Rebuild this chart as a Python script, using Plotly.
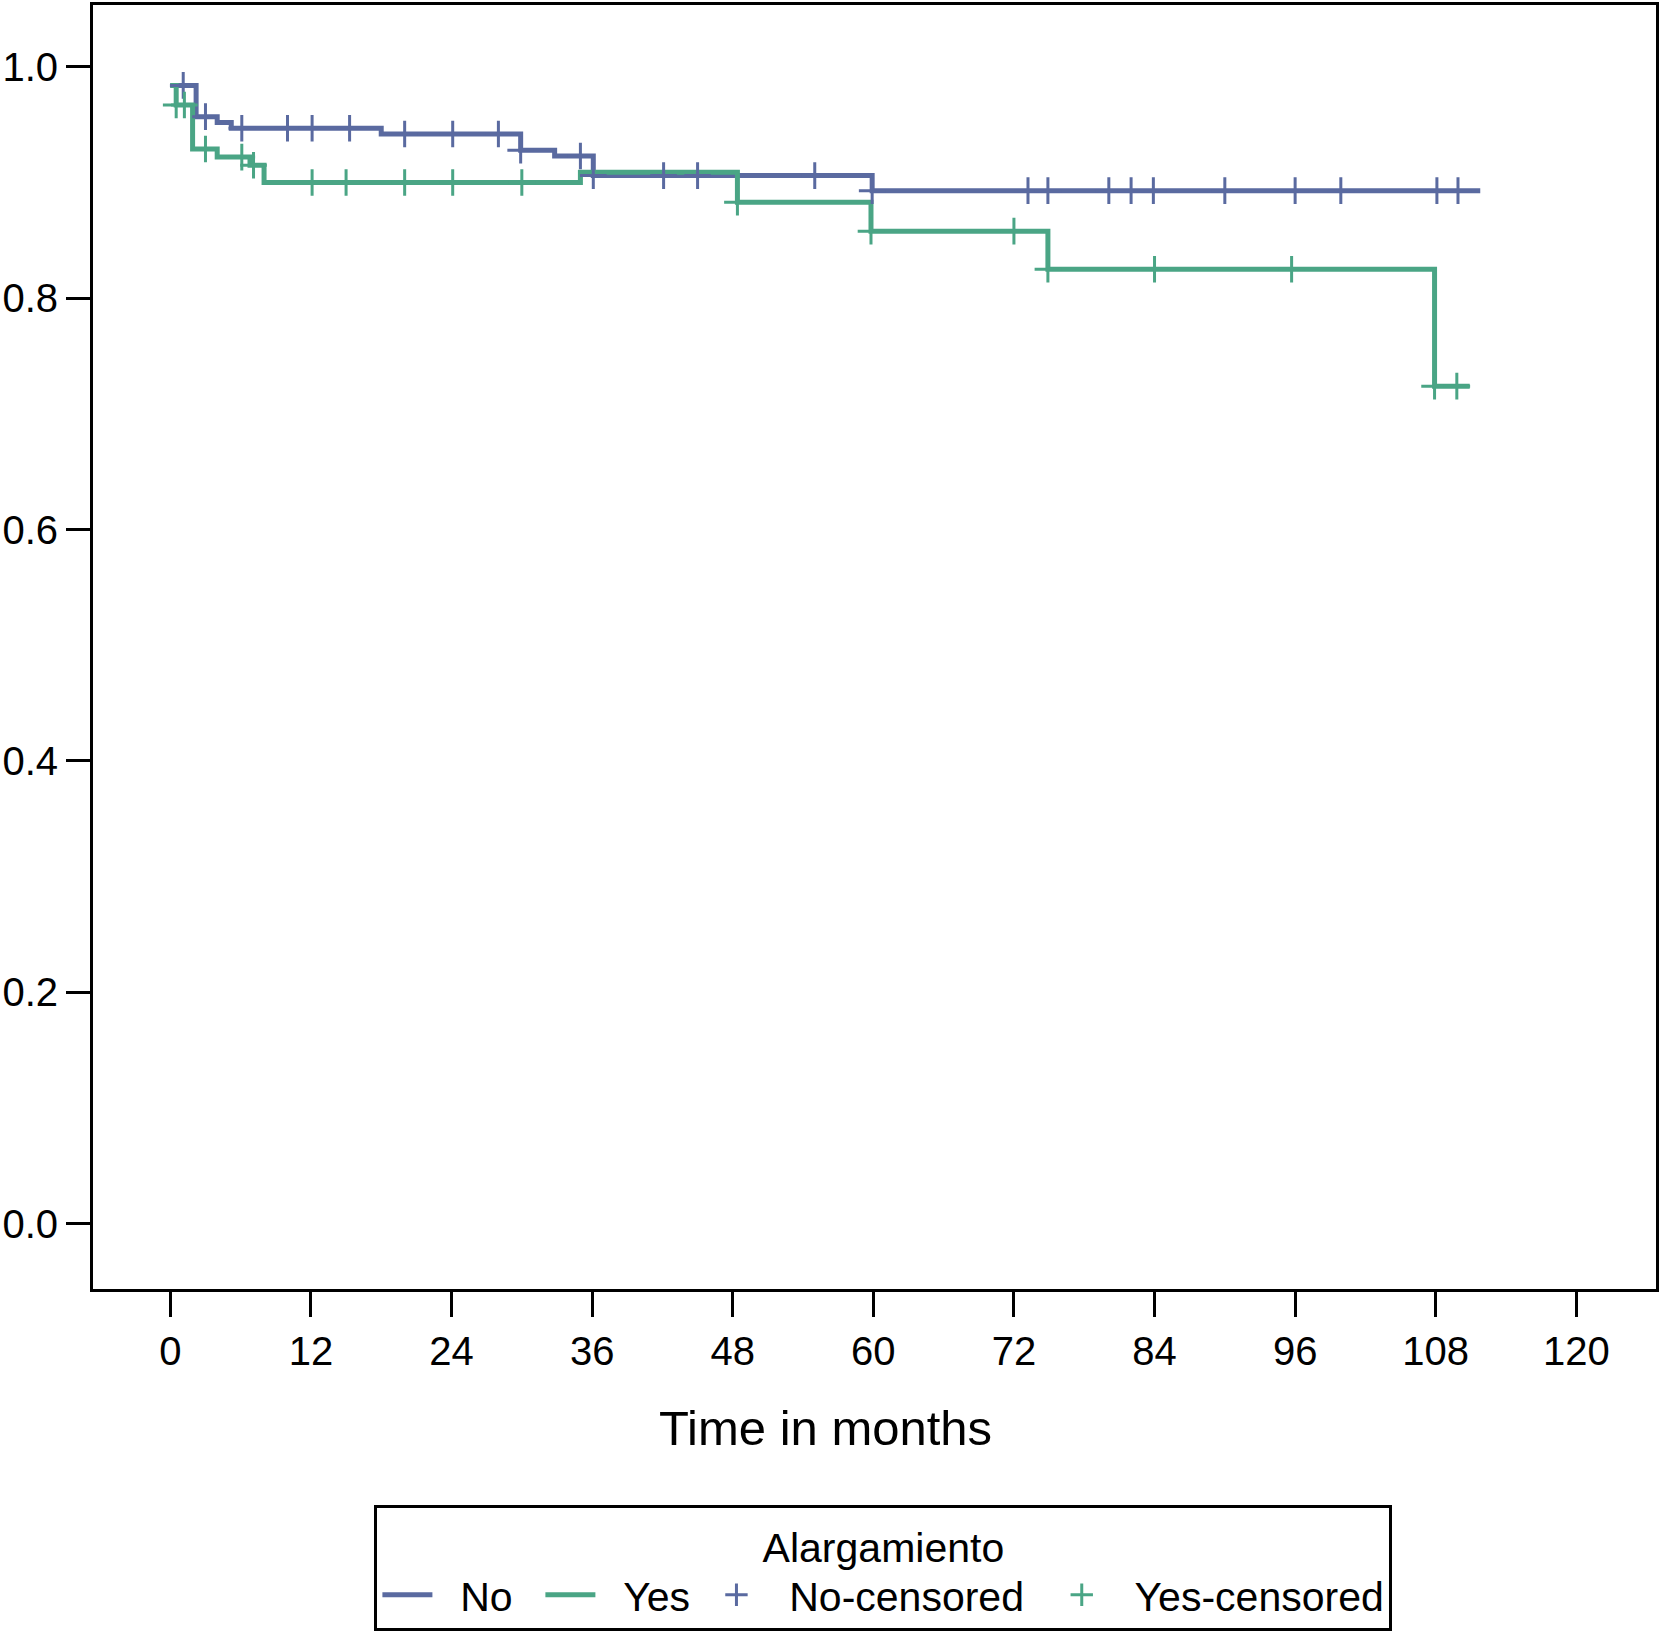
import plotly.graph_objects as go

# Kaplan-Meier step curves (time in months, survival)
no_time = [0, 2.2, 4.0, 5.2, 18.0, 29.9, 32.8, 36.1, 59.9, 111.8]
no_surv = [0.984, 0.957, 0.952, 0.947, 0.942, 0.928, 0.923, 0.906, 0.893, 0.893]

yes_time = [0, 0.5, 1.9, 4.0, 6.8, 8.0, 35.0, 48.4, 59.8, 74.9, 107.9, 110.9]
yes_surv = [0.984, 0.967, 0.929, 0.922, 0.915, 0.900, 0.909, 0.883, 0.858, 0.825, 0.724, 0.724]

# Censored observations
no_cens_time = [1.1, 3.0, 6.1, 10.0, 12.1, 15.3, 20.0, 24.1, 28.0, 29.9, 35.0, 36.1, 42.1,
                45.0, 55.0, 59.9, 73.2, 74.9, 80.1, 82.0, 83.9, 90.0, 96.0, 99.9, 108.1, 109.9]
no_cens_surv = [0.984, 0.957, 0.947, 0.947, 0.947, 0.947, 0.942, 0.942, 0.942, 0.928, 0.923, 0.906, 0.906,
                0.906, 0.906, 0.893, 0.893, 0.893, 0.893, 0.893, 0.893, 0.893, 0.893, 0.893, 0.893, 0.893]

yes_cens_time = [0.5, 1.2, 3.0, 6.1, 7.1, 12.1, 15.0, 20.0, 24.1, 30.0, 48.4, 59.8, 72.0,
                 74.9, 84.0, 95.7, 107.9, 109.8]
yes_cens_surv = [0.967, 0.967, 0.929, 0.922, 0.915, 0.900, 0.900, 0.900, 0.900, 0.900, 0.883, 0.858, 0.858,
                 0.825, 0.825, 0.825, 0.724, 0.724]

x_ticks = [0, 12, 24, 36, 48, 60, 72, 84, 96, 108, 120]
y_ticks = [0.0, 0.2, 0.4, 0.6, 0.8, 1.0]
y_tick_text = ["0.0", "0.2", "0.4", "0.6", "0.8", "1.0"]

series_names = ["No", "Yes", "No-censored", "Yes-censored"]
legend_title = "Alargamiento"
x_title = "Time in months"

BLUE = "#5A6AA0"
GREEN = "#4AA585"
FONT = "Liberation Sans, Arial, Helvetica, sans-serif"
NB = "\u00a0"


def pad(name, lead, trail):
    return NB * lead + name + NB * trail


fig = go.Figure()
fig.add_trace(go.Scatter(x=no_time, y=no_surv, mode="lines", name=pad(series_names[0], 2, 2),
                         line=dict(color=BLUE, width=5, shape="hv")))
fig.add_trace(go.Scatter(x=yes_time, y=yes_surv, mode="lines", name=pad(series_names[1], 2, 1),
                         line=dict(color=GREEN, width=5, shape="hv")))
fig.add_trace(go.Scatter(x=no_cens_time, y=no_cens_surv, mode="markers", name=pad(series_names[2], 2, 2),
                         marker=dict(symbol="cross-thin", size=19,
                                     line=dict(color=BLUE, width=3), color=BLUE)))
fig.add_trace(go.Scatter(x=yes_cens_time, y=yes_cens_surv, mode="markers", name=pad(series_names[3], 2, 0),
                         marker=dict(symbol="cross-thin", size=19,
                                     line=dict(color=GREEN, width=3), color=GREEN)))

fig.update_layout(
    width=1661, height=1644,
    margin=dict(l=92, r=2, t=2, b=355),
    paper_bgcolor="white", plot_bgcolor="white",
    font=dict(family=FONT, size=39, color="black"),
    showlegend=True,
    legend=dict(
        orientation="h", x=0.5057, xanchor="center", y=-0.1685, yanchor="top",
        bordercolor="black", borderwidth=3, bgcolor="white",
        title=dict(text=legend_title, side="top center", font=dict(size=41)),
        font=dict(size=41), traceorder="normal", itemwidth=50,
    ),
    xaxis=dict(
        range=[-6.6, 126.8], tickvals=x_ticks, ticktext=[str(v) for v in x_ticks],
        showgrid=False, zeroline=False, showline=True, linecolor="black", linewidth=3,
        mirror=True, ticks="outside", ticklen=25, tickwidth=3, tickcolor="black",
        tickfont=dict(size=40),
    ),
    yaxis=dict(
        range=[-0.0565, 1.0535], tickvals=y_ticks, ticktext=y_tick_text,
        showgrid=False, zeroline=False, showline=True, linecolor="black", linewidth=3,
        mirror=True, ticks="outside", ticklen=24, tickwidth=3, tickcolor="black",
        tickfont=dict(size=40),
    ),
    annotations=[dict(text=x_title, xref="paper", yref="paper", x=0.4684, y=-0.108,
                      xanchor="center", yanchor="middle", showarrow=False,
                      font=dict(size=49, family=FONT, color="black"))],
)

fig.write_html("out.html", config={"displayModeBar": False},
               post_script="document.body.style.margin='0';document.body.style.overflow='hidden';")
